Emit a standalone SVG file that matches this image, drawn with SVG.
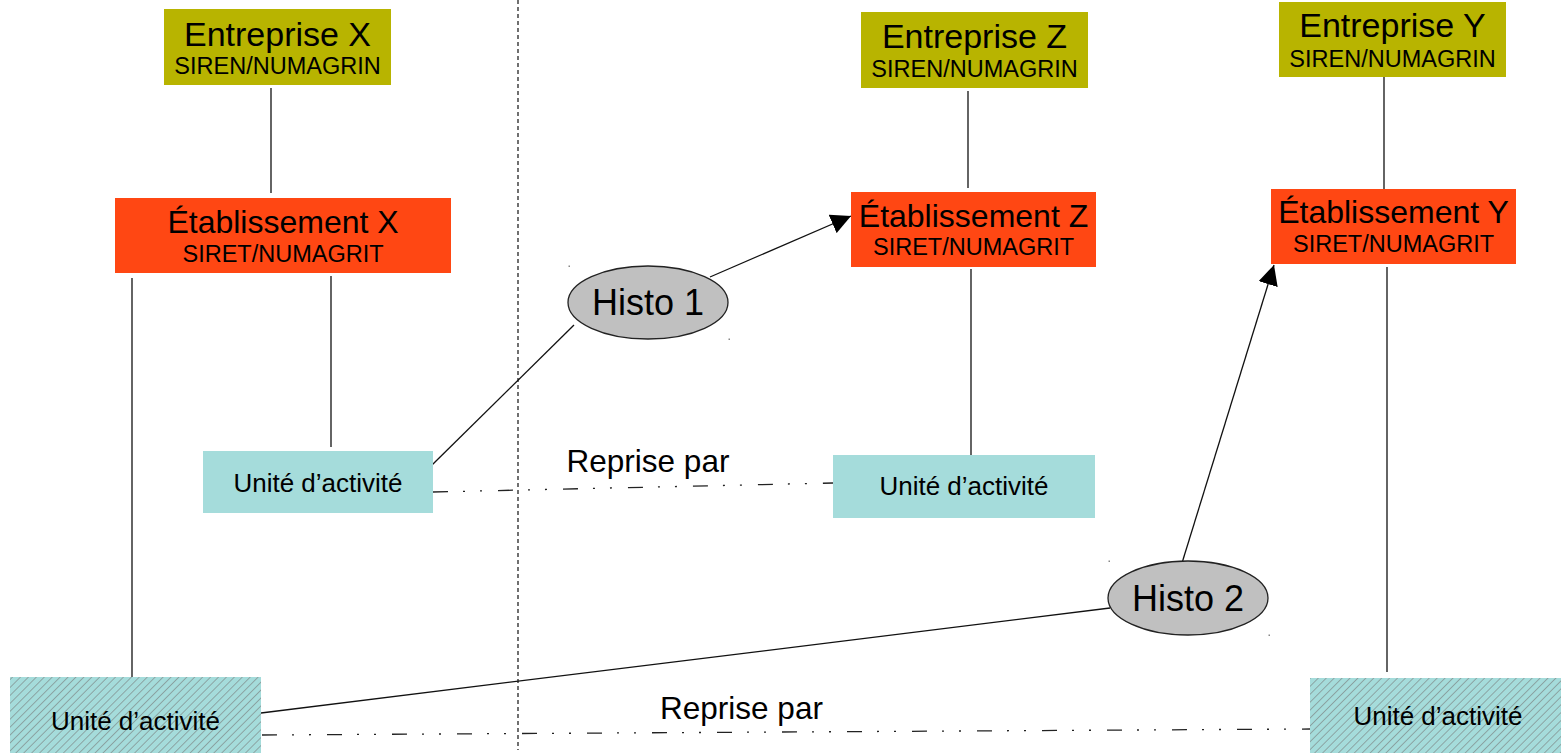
<svg xmlns="http://www.w3.org/2000/svg" width="1567" height="753" viewBox="0 0 1567 753">
  <style>
    .ent { fill: #b8b400; }
    .etab { fill: #ff4713; }
    .ua { fill: #a5dcdb; }
    .t { font-family: "Liberation Sans", Arial, sans-serif; fill: #000; text-anchor: middle; }
    .title { font-size: 34px; }
    .etitle { font-size: 32px; }
    .sub { font-size: 23.5px; }
    .uat { font-size: 26px; }
    .histo { font-size: 36px; }
    .rep { font-size: 31.5px; }
    .link { stroke: #111; stroke-width: 1.3; fill: none; }
    .dd { stroke: #222; stroke-width: 1.3; fill: none; stroke-dasharray: 15 15 2 15 2 16; }
    .sep { stroke: #111; stroke-width: 1.2; fill: none; stroke-dasharray: 4 3; }
    .ell { fill: #c0c0c0; stroke: #222; stroke-width: 1.3; }
    .dot { fill: #888; }
  </style>
  <defs>
    <pattern id="hatch" patternUnits="userSpaceOnUse" width="5.6" height="5.6" patternTransform="rotate(45)">
      <rect width="5.6" height="5.6" fill="#a5dcdb"/>
      <line x1="0" y1="0" x2="0" y2="5.6" stroke="#777" stroke-width="1.1"/>
    </pattern>
    <marker id="arrow" markerUnits="userSpaceOnUse" markerWidth="20" markerHeight="20" refX="20" refY="10" orient="auto">
      <path d="M0,0 L20,10 L0,20 z" fill="#000"/>
    </marker>
  </defs>

  <rect width="1567" height="753" fill="#fff"/>

  <g id="connectors">
    <line class="sep" x1="518" y1="0" x2="518" y2="750"/>
    <line class="link" x1="271" y1="88" x2="271" y2="193"/>
    <line class="link" x1="132" y1="278" x2="132" y2="677"/>
    <line class="link" x1="331" y1="276" x2="331" y2="447"/>
    <line class="link" x1="968" y1="91" x2="968" y2="188"/>
    <line class="link" x1="971" y1="269" x2="971" y2="459"/>
    <line class="link" x1="1384" y1="77" x2="1384" y2="189"/>
    <line class="link" x1="1387" y1="267" x2="1387" y2="672"/>
    <line class="link" x1="432" y1="465" x2="574" y2="325"/>
    <line class="link" x1="710" y1="277" x2="851" y2="216" marker-end="url(#arrow)"/>
    <line class="link" x1="261" y1="713" x2="1110" y2="608"/>
    <line class="link" x1="1182" y1="563" x2="1274" y2="265" marker-end="url(#arrow)"/>
    <line class="dd" x1="433" y1="492" x2="833" y2="483"/>
    <line class="dd" x1="262" y1="735" x2="1310" y2="729"/>
    <rect class="dot" x="568.5" y="265.5" width="1.5" height="1.5"/>
    <rect class="dot" x="728.5" y="338.5" width="1.5" height="1.5"/>
    <rect class="dot" x="1108.5" y="560.5" width="1.5" height="1.5"/>
    <rect class="dot" x="1268.5" y="634.5" width="1.5" height="1.5"/>
  </g>

  <g id="entreprise-x">
    <rect class="ent" x="164" y="9" width="227" height="76"/>
    <text class="t title" x="277.5" y="46">Entreprise X</text>
    <text class="t sub" x="277.5" y="74">SIREN/NUMAGRIN</text>
  </g>
  <g id="entreprise-z">
    <rect class="ent" x="861" y="12" width="227" height="76"/>
    <text class="t title" x="974.5" y="48">Entreprise Z</text>
    <text class="t sub" x="974.5" y="77">SIREN/NUMAGRIN</text>
  </g>
  <g id="entreprise-y">
    <rect class="ent" x="1279" y="2" width="227" height="75"/>
    <text class="t title" x="1392.5" y="37">Entreprise Y</text>
    <text class="t sub" x="1392.5" y="67">SIREN/NUMAGRIN</text>
  </g>

  <g id="etablissement-x">
    <rect class="etab" x="115" y="198" width="336" height="75"/>
    <text class="t etitle" x="283" y="233">Établissement X</text>
    <text class="t sub" x="283" y="262">SIRET/NUMAGRIT</text>
  </g>
  <g id="etablissement-z">
    <rect class="etab" x="851" y="192" width="245" height="75"/>
    <text class="t etitle" x="973.5" y="227">Établissement Z</text>
    <text class="t sub" x="973.5" y="255">SIRET/NUMAGRIT</text>
  </g>
  <g id="etablissement-y">
    <rect class="etab" x="1271" y="189" width="245" height="75"/>
    <text class="t etitle" x="1393.5" y="223">Établissement Y</text>
    <text class="t sub" x="1393.5" y="252">SIRET/NUMAGRIT</text>
  </g>

  <g id="unite-x">
    <rect class="ua" x="203" y="451" width="230" height="62"/>
    <text class="t uat" x="318" y="492">Unité d’activité</text>
  </g>
  <g id="unite-z">
    <rect class="ua" x="833" y="455" width="262" height="63"/>
    <text class="t uat" x="964" y="495">Unité d’activité</text>
  </g>
  <g id="unite-x-hist">
    <rect x="10" y="677" width="251" height="76" fill="url(#hatch)"/>
    <text class="t uat" x="135.5" y="730">Unité d’activité</text>
  </g>
  <g id="unite-y-hist">
    <rect x="1310" y="678" width="251" height="75" fill="url(#hatch)"/>
    <text class="t uat" x="1438" y="725">Unité d’activité</text>
  </g>

  <g id="histo-1">
    <ellipse class="ell" cx="648" cy="302.5" rx="80" ry="36.5"/>
    <text class="t histo" x="648" y="315">Histo 1</text>
  </g>
  <g id="histo-2">
    <ellipse class="ell" cx="1188" cy="598" rx="80" ry="37"/>
    <text class="t histo" x="1188" y="611">Histo 2</text>
  </g>

  <g id="labels">
    <text class="t rep" x="648" y="472">Reprise par</text>
    <text class="t rep" x="741.5" y="719">Reprise par</text>
  </g>
</svg>
